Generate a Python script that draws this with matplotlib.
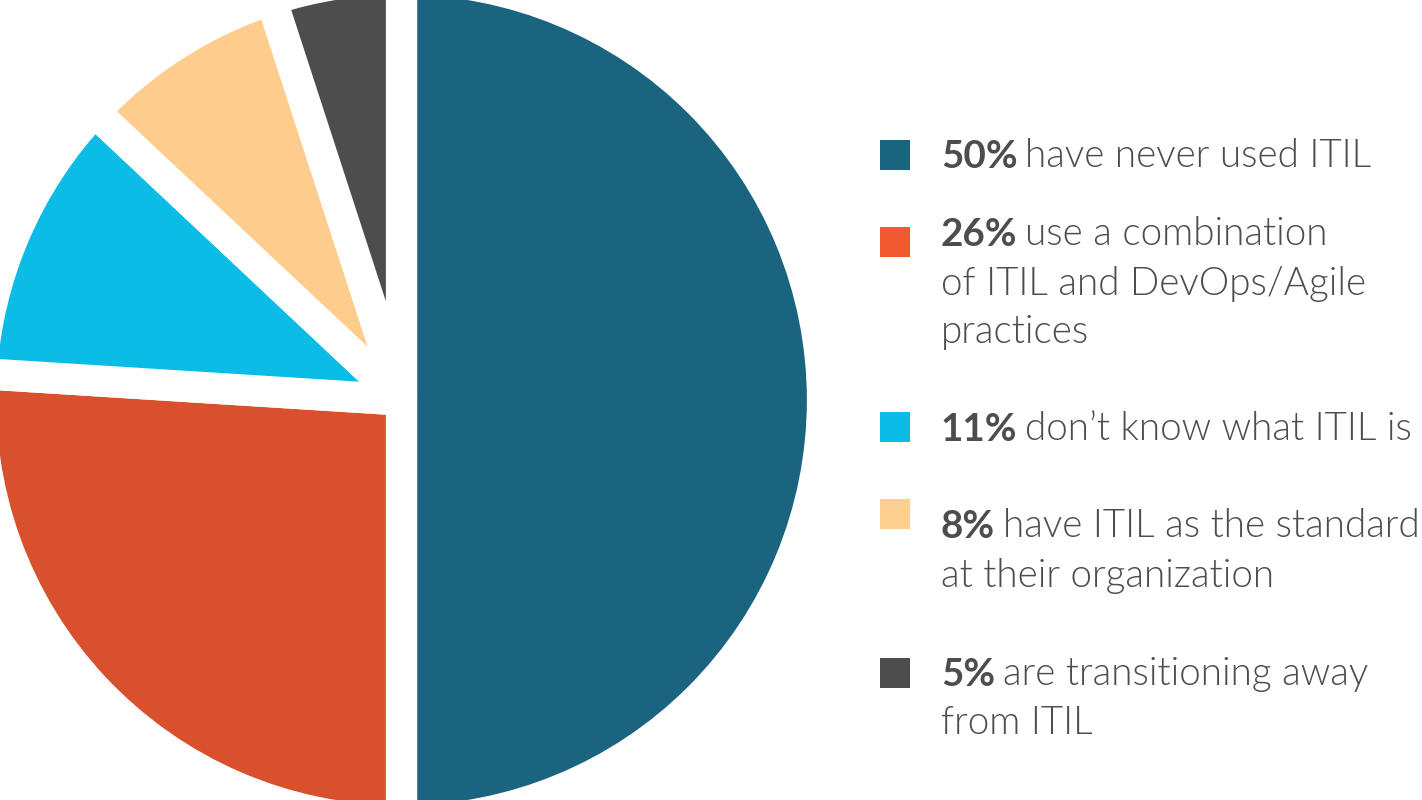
import matplotlib
matplotlib.use("Agg")
import matplotlib.pyplot as plt
from matplotlib.patches import Rectangle

# data
shares = [50, 26, 11, 8, 5]
pct_labels = ["50%", "26%", "11%", "8%", "5%"]
descriptions = [
    "have never used ITIL",
    "use a combination\nof ITIL and DevOps/Agile\npractices",
    "don\u2019t know what ITIL is",
    "have ITIL as the standard\nat their organization",
    "are transitioning away\nfrom ITIL",
]

wedge_colors = ["#1a6480", "#d9512c", "#0bbce6", "#fecd8e", "#4d4d4d"]
legend_colors = ["#1a6480", "#f15a31", "#0bbde6", "#fed08f", "#4d4d4d"]
text_color = "#4d4d4d"

W, H = 1422, 800
fig = plt.figure(figsize=(W / 100, H / 100), dpi=100)
ax = fig.add_axes([0, 0, 1, 1])

# pie, white strokes make the gaps between slices
ax.pie(shares, colors=wedge_colors, startangle=90, counterclock=False,
       center=(401.5, 400), radius=421,
       wedgeprops=dict(edgecolor="white", linewidth=22.5, joinstyle="round"))
ax.set_xlim(0, W)
ax.set_ylim(0, H)
ax.set_aspect("equal")
ax.axis("off")

# legend, laid out by hand (pixel coords, y from top)
sq_x, sq_size = 880, 30
sq_tops = [140, 227, 412, 499, 658]
first_baselines = [168, 246, 441, 538, 686]
line_gap = 48.5
text_x = 941
fsize = 27.8

for i in range(len(shares)):
    ax.add_patch(Rectangle((sq_x, H - sq_tops[i] - sq_size), sq_size, sq_size,
                           facecolor=legend_colors[i], edgecolor="none"))
    lines = descriptions[i].split("\n")
    y0 = H - first_baselines[i]
    bold = ax.text(text_x, y0, pct_labels[i], fontsize=fsize, family="Lato",
                   fontweight="bold", color=text_color, va="baseline", ha="left")
    ax.annotate(lines[0], xy=(1, 0), xycoords=bold, xytext=(5.5, 0),
                textcoords="offset points", fontsize=fsize, family="Lato",
                fontweight=300, color=text_color, va="bottom", ha="left")
    for k, line in enumerate(lines[1:], start=1):
        ax.text(text_x, y0 - k * line_gap, line, fontsize=fsize, family="Lato",
                fontweight=300, color=text_color, va="baseline", ha="left")

fig.savefig("out.png", dpi=100, facecolor="white")
